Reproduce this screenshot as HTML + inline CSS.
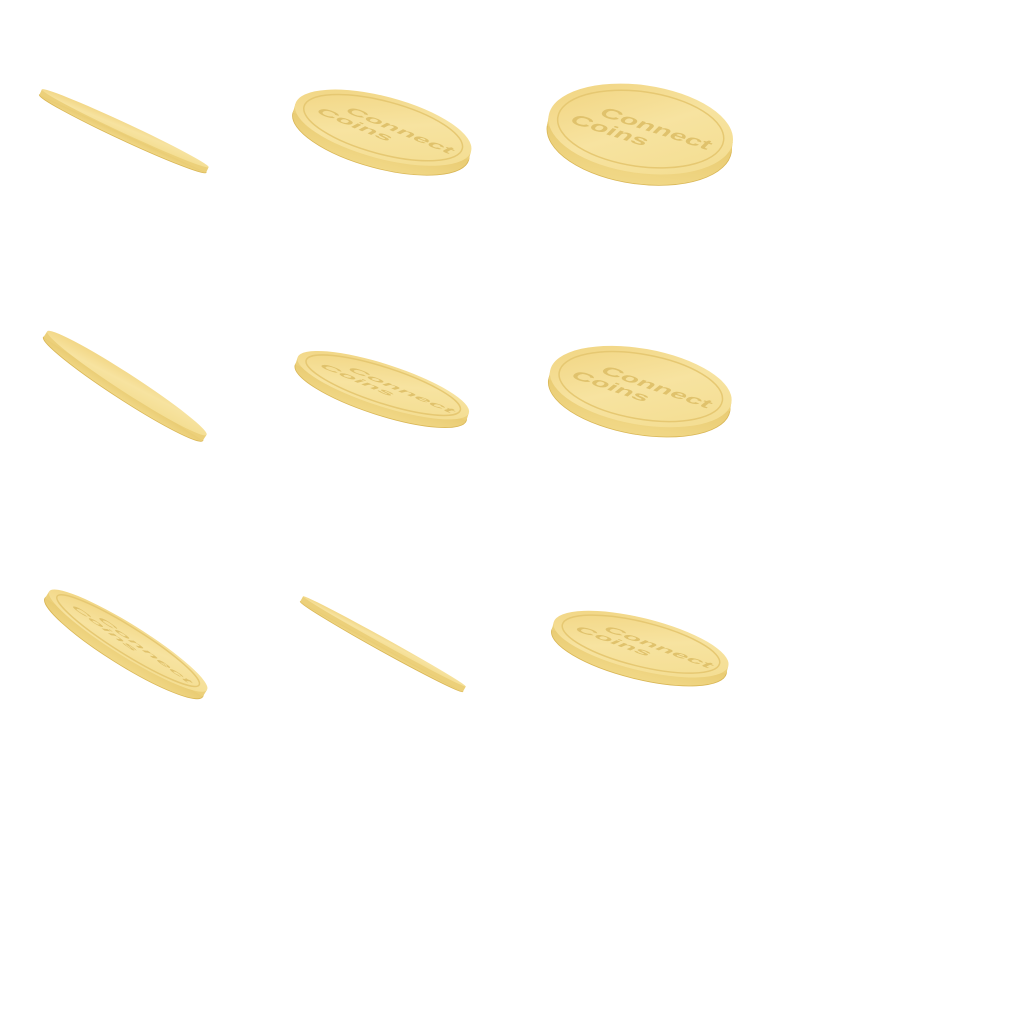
<!DOCTYPE html>
<html><head><meta charset="utf-8">
<style>
html,body{margin:0;padding:0;background:#fff;}
svg{display:block;}
</style></head>
<body>
<svg id="sheet" width="1024" height="1024" viewBox="0 0 1024 1024" xmlns="http://www.w3.org/2000/svg">
<defs>
<linearGradient id="face" x1="0" y1="0" x2="1" y2="1">
<stop offset="0" stop-color="#f0d27c"/>
<stop offset="0.5" stop-color="#f7e3a0"/>
<stop offset="1" stop-color="#f3dc8e"/>
</linearGradient>
<linearGradient id="rim" x1="0" y1="0" x2="0" y2="1">
<stop offset="0" stop-color="#e2c060"/>
<stop offset="1" stop-color="#f1d887"/>
</linearGradient>
</defs>
</svg>
<script>
const cx = [124, 382, 640, 125, 382, 640, 126, 383, 640];
const cy = [131, 132, 134, 386, 389, 391, 644, 644, 648];
const rx = [92, 91, 93, 95, 90, 92, 93, 93, 90];
const ry = [5, 31, 44, 9, 21, 38, 16, 3, 26];
const angle = [25, 15, 8, 33, 18, 10, 32, 29, 14];
const thick = [6, 9, 10, 7, 8, 9, 8, 6, 8];
const svg = document.getElementById('sheet');
const NS = 'http://www.w3.org/2000/svg';
for (let i = 0; i < cx.length; i++) {
  const g = document.createElementNS(NS, 'g');
  
  
  g.setAttribute('transform', `translate(${cx[i]},${cy[i]}) rotate(${angle[i]})`);
  const rim = document.createElementNS(NS, 'ellipse');
  
  
  rim.setAttribute('cx', 0); rim.setAttribute('cy', thick[i] / 2);
  rim.setAttribute('rx', rx[i]); rim.setAttribute('ry', ry[i] + 1);
  rim.setAttribute('fill', 'url(#rim)');
  rim.setAttribute('stroke', '#d9b655'); rim.setAttribute('stroke-width', '0.8');
  g.appendChild(rim);
  const body = document.createElementNS(NS, 'rect');
  
  
  body.setAttribute('x', -rx[i]); body.setAttribute('y', -thick[i] / 2);
  body.setAttribute('width', rx[i] * 2); body.setAttribute('height', thick[i]);
  body.setAttribute('fill', '#ecd07a');
  g.appendChild(body);
  const face = document.createElementNS(NS, 'ellipse');
  
  
  face.setAttribute('cx', 0); face.setAttribute('cy', -thick[i] / 2);
  face.setAttribute('rx', rx[i]); face.setAttribute('ry', Math.max(ry[i], 1.5));
  face.setAttribute('fill', 'url(#face)');
  g.appendChild(face);
  if (ry[i] > 15) {
    const inner = document.createElementNS(NS, 'ellipse');
    
    
    inner.setAttribute('cx', 0); inner.setAttribute('cy', -thick[i] / 2);
    inner.setAttribute('rx', rx[i] * 0.9); inner.setAttribute('ry', ry[i] * 0.85);
    inner.setAttribute('fill', 'none'); inner.setAttribute('stroke', '#e6c872'); inner.setAttribute('stroke-width', '1.5');
    g.appendChild(inner);
    const t = document.createElementNS(NS, 'text');
    
    
    t.setAttribute('x', -rx[i] * 0.55);
    t.setAttribute('font-family', 'Liberation Sans, sans-serif');
    t.setAttribute('font-weight', 'bold');
    t.setAttribute('font-size', 30);
    t.setAttribute('fill', '#e0c26c');
    t.setAttribute('transform', `scale(1,${(ry[i] / rx[i]).toFixed(3)}) rotate(20)`);
    t.setAttribute('y', (-thick[i] / 2) * rx[i] / ry[i]);
    t.textContent = 'Connect';
    g.appendChild(t);
    const t2 = t.cloneNode();
    
    
    t2.setAttribute('x', -rx[i] * 0.75);
    t2.setAttribute('y', (-thick[i] / 2) * rx[i] / ry[i] + 32);
    t2.textContent = 'Coins';
    g.appendChild(t2);
  }
  svg.appendChild(g);
}
</script>
</body></html>
